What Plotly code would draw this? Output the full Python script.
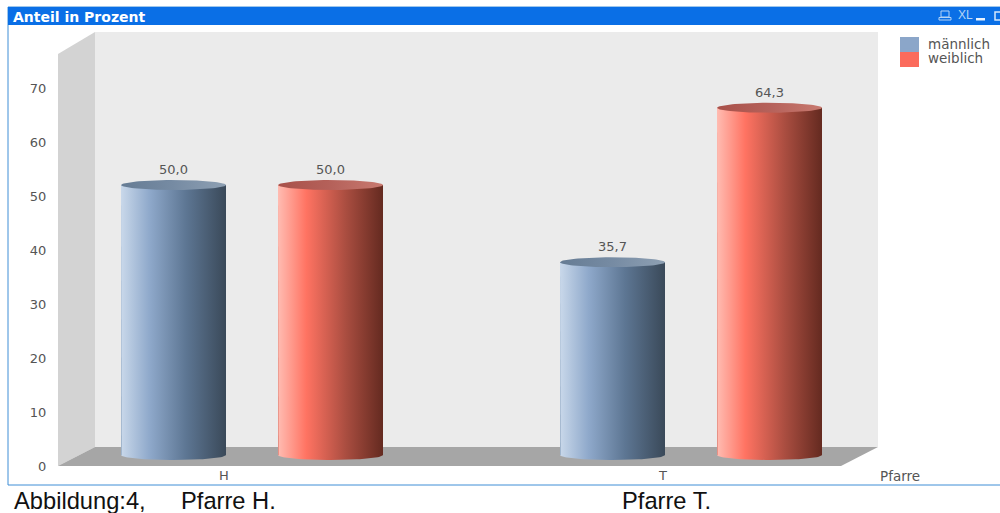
import math
import plotly.graph_objects as go

# ---- data ----
categories = ["H", "T"]
series_names = ["männlich", "weiblich"]
maennlich = [50.0, 35.7]
weiblich = [50.0, 64.3]
y_ticks = [0, 10, 20, 30, 40, 50, 60, 70]
chart_title = "Anteil in Prozent"
x_title = "Pfarre"
caption_left = "Abbildung:4,"
caption_h = "Pfarre H."
caption_t = "Pfarre T."

# ---- layout geometry (pixels in the 1000x513 page) ----
W, H = 1000, 513
L, R, T, B = 58, 878, 32, 466
PX_PER_UNIT = 5.4
PX_PER_CAT = 439
CAT0_PX = 224
DX, DY = 37, 19           # wall depth
CYL_DX, CYL_DY = 28, 11   # cylinder plane inside the depth
GROUP_OFF = 78.5
CYL_HALF = 52.5
ELL_RY = 5


def py(y):
    return 1 - (y - T) / (B - T)


def fx(x):
    return (x - L) / (R - L)


def ppoly(points):
    return "M" + " L".join(f"{fx(a):.5f},{py(b):.5f}" for a, b in points) + " Z"


xr = [(L - CAT0_PX) / PX_PER_CAT, (R - CAT0_PX) / PX_PER_CAT]
yr = [0, (B - T) / PX_PER_UNIT]

styles = {
    "männlich": dict(
        swatch="#8ba6c9", mid="#6f8aa8",
        body=[[0, "#c9d8ea"], [0.27, "#8fa9cb"], [0.62, "#5d7693"], [1, "#3a4959"]],
        top=[[0, "#667c94"], [0.5, "#768ba3"], [1, "#8ea0b3"]],
    ),
    "weiblich": dict(
        swatch="#fb6b5c", mid="#c85a4c",
        body=[[0, "#ffbcb2"], [0.27, "#ff7362"], [0.65, "#a94d40"], [1, "#642a20"]],
        top=[[0, "#a8514a"], [0.5, "#b5615a"], [1, "#c87a70"]],
    ),
}

shapes = [
    dict(type="path", path=ppoly([(L + DX, T), (R, T), (R, B - DY), (L + DX, B - DY)]),
         xref="paper", yref="paper", fillcolor="#ebebeb", line_width=0, layer="below"),
    dict(type="path", path=ppoly([(L, T + DY + 3), (L + DX, T), (L + DX, B - DY), (L, B)]),
         xref="paper", yref="paper", fillcolor="#d3d3d3", line_width=0, layer="below"),
    dict(type="path", path=ppoly([(L, B), (L + DX, B - DY), (R, B - DY), (R - DX, B)]),
         xref="paper", yref="paper", fillcolor="#a6a6a6", line_width=0, layer="below"),
    # window frame
    dict(type="rect", x0=fx(8), x1=fx(1003), y0=py(485), y1=py(7), xref="paper", yref="paper",
         line=dict(color="#3f8ed6", width=1), fillcolor="rgba(0,0,0,0)", layer="below"),
    dict(type="rect", x0=fx(8), x1=fx(1003), y0=py(25), y1=py(7), xref="paper", yref="paper",
         line_width=0, fillcolor="#0a6fe6", layer="below"),
    # caption bar icons
    dict(type="rect", x0=fx(941), x1=fx(949), y0=py(17), y1=py(11), xref="paper", yref="paper",
         line=dict(color="#b5d4f5", width=1), fillcolor="rgba(0,0,0,0)"),
    dict(type="rect", x0=fx(939), x1=fx(951), y0=py(20), y1=py(17.5), xref="paper", yref="paper",
         line=dict(color="#b5d4f5", width=1), fillcolor="rgba(0,0,0,0)"),
    dict(type="rect", x0=fx(976), x1=fx(985), y0=py(20.5), y1=py(18), xref="paper", yref="paper",
         line_width=0, fillcolor="#e8f2fd"),
    dict(type="rect", x0=fx(995), x1=fx(1003), y0=py(20), y1=py(12), xref="paper", yref="paper",
         line=dict(color="#d5e7fb", width=1.5), fillcolor="rgba(0,0,0,0)"),
    # wide legend keys behind the legend markers
    dict(type="rect", x0=fx(900), x1=fx(919), y0=py(52), y1=py(37), xref="paper", yref="paper",
         line_width=0, fillcolor=styles["männlich"]["swatch"], layer="below"),
    dict(type="rect", x0=fx(900), x1=fx(919), y0=py(67), y1=py(52), xref="paper", yref="paper",
         line_width=0, fillcolor=styles["weiblich"]["swatch"], layer="below"),
]

fig = go.Figure()
cat_pos = list(range(len(categories)))
x_off = CYL_DX / PX_PER_CAT
half = CYL_HALF / PX_PER_CAT
y_off = CYL_DY / PX_PER_UNIT
ry = ELL_RY / PX_PER_UNIT
N_ARC = 48
legend_ids = ["legend", "legend2"]
legend_rows = [28, 42]

for name, values, sign, leg in zip(series_names, [maennlich, weiblich], [-1, 1], legend_ids):
    st = styles[name]
    centers = [c + x_off + sign * GROUP_OFF / PX_PER_CAT for c in cat_pos]
    # the bar itself
    fig.add_trace(go.Bar(
        x=centers, y=values, base=[y_off] * len(values), width=[2 * half] * len(values),
        marker=dict(color=st["mid"], line_width=0), showlegend=False, hoverinfo="skip",
    ))
    labels_x, labels_y, labels_t = [], [], []
    for c, v in zip(centers, values):
        top = v + y_off
        arc_x = [c + half * math.cos(math.pi * i / N_ARC) for i in range(N_ARC + 1)]
        arc_low = [y_off - ry * math.sin(math.pi * i / N_ARC) for i in range(N_ARC + 1)]
        # cylinder body: flat at top, rounded bottom
        fig.add_trace(go.Scatter(
            x=[c - half] + arc_x[::-1] + [c + half, c - half],
            y=[top] + arc_low[::-1] + [top, top],
            mode="lines", line_width=0, fill="toself",
            fillgradient=dict(type="horizontal", colorscale=st["body"]),
            showlegend=False, hoverinfo="skip",
        ))
        # cylinder lid
        ell_x = [c + half * math.cos(2 * math.pi * i / 96) for i in range(97)]
        ell_y = [top + ry * math.sin(2 * math.pi * i / 96) for i in range(97)]
        fig.add_trace(go.Scatter(
            x=ell_x, y=ell_y, mode="lines", line_width=0, fill="toself",
            fillgradient=dict(type="horizontal", colorscale=st["top"]),
            showlegend=False, hoverinfo="skip",
        ))
        labels_x.append(c)
        labels_y.append(top + 14 / PX_PER_UNIT)
        labels_t.append(f"{v:.1f}".replace(".", ","))
    fig.add_trace(go.Scatter(
        x=labels_x, y=labels_y, text=labels_t, mode="text", textposition="middle center",
        textfont=dict(family="DejaVu Sans", size=13, color="#555555"),
        showlegend=False, hoverinfo="skip",
    ))
    # legend key
    fig.add_trace(go.Scatter(
        x=[None], y=[None], name=name, mode="markers", legend=leg,
        marker=dict(symbol="square", size=10, color=st["swatch"], line_width=0),
    ))

ann_font = dict(family="DejaVu Sans", size=13.5, color="#555555")
cap_font = dict(family="Liberation Sans", size=23.7, color="#111111")


def note(text, x, y, font):
    return dict(text=text, x=fx(x), y=py(y), xref="paper", yref="paper", showarrow=False,
                xanchor="left", yanchor="middle", font=font, borderpad=0, borderwidth=0)


annotations = [
    note(x_title, 880, 476, ann_font),
    note(chart_title, 13, 17, dict(family="DejaVu Sans", size=14, color="white", weight="bold")),
    note("XL", 958, 15, dict(family="Liberation Sans Narrow, Liberation Sans", size=12, color="#b5d4f5")),
    note(caption_left, 14, 501, cap_font),
    note(caption_h, 181, 501, cap_font),
    note(caption_t, 622, 501, cap_font),
]

legend_style = dict(xanchor="left", yanchor="top", xref="paper", yref="paper",
                    bgcolor="rgba(0,0,0,0)", borderwidth=0,
                    font=dict(family="DejaVu Sans", size=13.5, color="#555555"),
                    itemclick=False, itemdoubleclick=False)

fig.update_layout(
    width=W, height=H,
    margin=dict(l=L, r=W - R, t=T, b=H - B, pad=0, autoexpand=False),
    paper_bgcolor="white", plot_bgcolor="rgba(0,0,0,0)",
    barmode="overlay", bargap=0,
    shapes=shapes, annotations=annotations,
    font=dict(family="DejaVu Sans", size=13, color="#555555"),
    xaxis=dict(range=xr, tickmode="array", tickvals=cat_pos, ticktext=categories,
               showgrid=False, zeroline=False, showline=False, ticks="",
               tickfont=dict(family="DejaVu Sans", size=13, color="#555555")),
    yaxis=dict(range=yr, tickmode="array", tickvals=y_ticks, ticktext=[str(v) for v in y_ticks],
               showgrid=False, zeroline=False, showline=False, ticks="outside",
               ticklen=8, tickcolor="rgba(0,0,0,0)",
               tickfont=dict(family="DejaVu Sans", size=13, color="#555555")),
    legend=dict(x=fx(888), y=py(legend_rows[0]), **legend_style),
    legend2=dict(x=fx(888), y=py(legend_rows[1]), **legend_style),
)

fig.write_html("out.html", config=dict(displayModeBar=False),
               post_script="document.body.style.margin='0';document.documentElement.style.overflow='hidden';")
